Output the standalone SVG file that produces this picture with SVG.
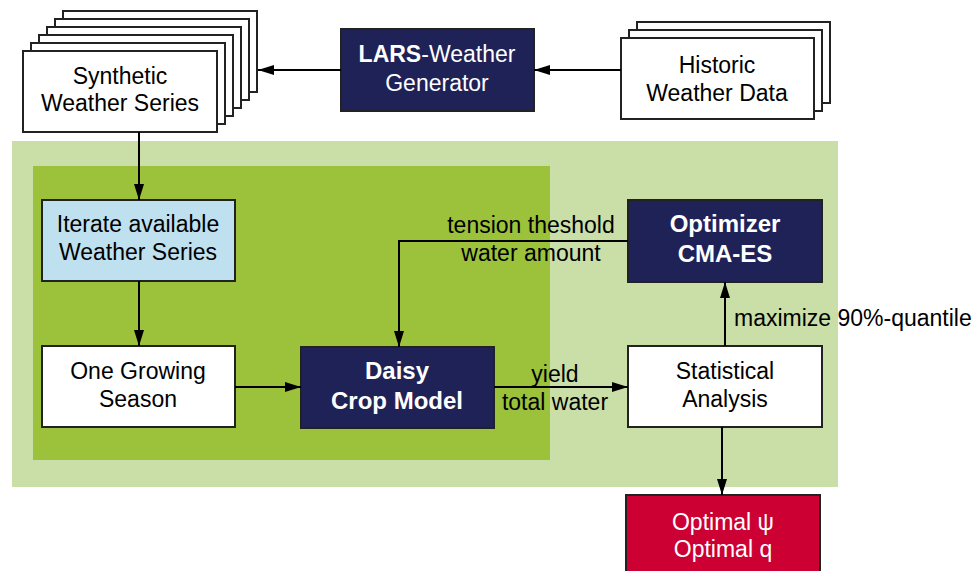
<svg xmlns="http://www.w3.org/2000/svg" width="976" height="571" viewBox="0 0 976 571">
<style>
text{font-family:"Liberation Sans",Arial,sans-serif;font-size:23px;fill:#000;text-anchor:middle}
.w{fill:#fff}
.b{font-weight:bold;font-size:24px}
.box{stroke:#222;stroke-width:2}
.white{fill:#fff}
.navy{fill:#1f2257}
.blue{fill:#bfe0ee}
.red{fill:#cc0033}
.line{fill:none;stroke:#000;stroke-width:2}
</style>
<defs>
<marker id="ah" markerWidth="16" markerHeight="10" refX="16" refY="5" orient="auto" markerUnits="userSpaceOnUse">
<path d="M0,0 L16,5 L0,10 z" fill="#000"/>
</marker>
</defs>
<rect width="976" height="571" fill="#fff"/>
<rect id="outer-region" x="12" y="141" width="826" height="346" fill="#c9dfa7"/>
<rect id="inner-region" x="33" y="166" width="517" height="294" fill="#9bc23a"/>

<g id="synthetic">
<rect class="box white" x="63" y="11" width="194" height="81"/>
<rect class="box white" x="55" y="19" width="194" height="81"/>
<rect class="box white" x="47" y="27" width="194" height="81"/>
<rect class="box white" x="39" y="35" width="194" height="81"/>
<rect class="box white" x="31" y="43" width="194" height="81"/>
<rect class="box white" x="23" y="51" width="194" height="81"/>
<text x="120" y="84">Synthetic</text>
<text x="120" y="111">Weather Series</text>
</g>

<g id="lars">
<rect class="box navy" x="341" y="29" width="193" height="82"/>
<text class="w" x="437" y="62"><tspan style="font-weight:bold">LARS</tspan>-Weather</text>
<text class="w" x="437" y="91">Generator</text>
</g>

<g id="historic">
<rect class="box white" x="637" y="22" width="193" height="81"/>
<rect class="box white" x="629" y="30" width="193" height="81"/>
<rect class="box white" x="621" y="38" width="193" height="81"/>
<text x="717" y="73">Historic</text>
<text x="717" y="101">Weather Data</text>
</g>

<g id="iterate">
<rect class="box blue" x="42" y="200" width="193" height="81"/>
<text x="138" y="232">Iterate available</text>
<text x="138" y="260">Weather Series</text>
</g>

<g id="season">
<rect class="box white" x="42" y="346" width="193" height="81"/>
<text x="138" y="379">One Growing</text>
<text x="138" y="407">Season</text>
</g>

<g id="daisy">
<rect class="box navy" x="301" y="347" width="193" height="81"/>
<text class="w b" x="397" y="379">Daisy</text>
<text class="w b" x="397" y="409">Crop Model</text>
</g>

<g id="optimizer">
<rect class="box navy" x="628" y="200" width="194" height="82"/>
<text class="w b" x="725" y="232">Optimizer</text>
<text class="w b" x="725" y="262">CMA-ES</text>
</g>

<g id="statistical">
<rect class="box white" x="628" y="346" width="194" height="81"/>
<text x="725" y="379">Statistical</text>
<text x="725" y="407">Analysis</text>
</g>

<g id="optimal">
<rect class="box red" x="626" y="495" width="194" height="90"/>
<text class="w" x="723" y="530">Optimal ψ</text>
<text class="w" x="723" y="557">Optimal q</text>
</g>

<g id="connectors">
<line class="line" x1="621" y1="70" x2="534" y2="70" marker-end="url(#ah)"/>
<line class="line" x1="341" y1="70" x2="258" y2="70" marker-end="url(#ah)"/>
<line class="line" x1="139" y1="132" x2="139" y2="200" marker-end="url(#ah)"/>
<line class="line" x1="139" y1="281" x2="139" y2="346" marker-end="url(#ah)"/>
<line class="line" x1="235" y1="387" x2="301" y2="387" marker-end="url(#ah)"/>
<polyline class="line" points="628,241 399,241 399,347" marker-end="url(#ah)"/>
<line class="line" x1="494" y1="387" x2="628" y2="387" marker-end="url(#ah)"/>
<line class="line" x1="725" y1="346" x2="725" y2="282" marker-end="url(#ah)"/>
<line class="line" x1="722" y1="427" x2="722" y2="495" marker-end="url(#ah)"/>
<text x="531" y="233">tension theshold</text>
<text x="531" y="261">water amount</text>
<text x="555" y="382">yield</text>
<text x="555" y="410">total water</text>
<text x="734" y="326" style="text-anchor:start">maximize 90%-quantile</text>
</g>
</svg>
